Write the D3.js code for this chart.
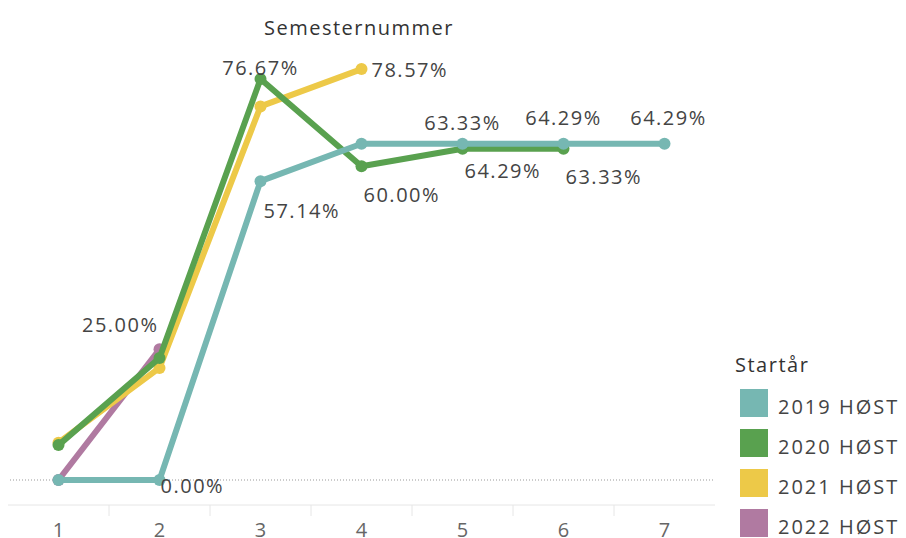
<!DOCTYPE html>
<html>
<head>
<meta charset="utf-8">
<script src="https://cdn.jsdelivr.net/npm/d3@7"></script>
<style>
  body { margin: 0; background: #fff; }
  text { font-family: "Open Sans", "Noto Sans", sans-serif; }
</style>
</head>
<body>
<div id="chart"></div>
<script>
// Data
const semesters = ["1", "2", "3", "4", "5", "6", "7"];
const seriesNames = ["2019 HØST", "2020 HØST", "2021 HØST", "2022 HØST"];
const colors = ["#76b7b2", "#59a14f", "#edc948", "#b07aa1"];
const v2019 = [0, 0, 57.14, 64.29, 64.29, 64.29, 64.29];
const v2020 = [6.67, 23.33, 76.67, 60.00, 63.33, 63.33];
const v2021 = [7.14, 21.43, 71.43, 78.57];
const v2022 = [0, 25.00];
const values = [v2019, v2020, v2021, v2022];

// which points carry a label: [series, index, dx, dy, anchor]
const labels = [
  [0, 1, 1, 13, "start"],
  [3, 1, -1, -17, "end"],
  [1, 2, 0, -4, "middle"],
  [2, 3, 10, 8, "start"],
  [0, 2, 3, 37, "start"],
  [1, 3, 2, 36, "start"],
  [1, 4, 0, -19, "middle"],
  [0, 4, 2, 34, "start"],
  [0, 5, 0, -19, "middle"],
  [1, 5, 2, 35, "start"],
  [0, 6, 4, -19, "middle"]
];

const width = 906, height = 538;
const fs = 20, ls = 1.5;

const svg = d3.select("#chart")
    .append("svg")
    .attr("width", width)
    .attr("height", height);

const x = d3.scaleBand().domain(semesters).range([8, 715]);
const y = d3.scaleLinear().domain([0, 100]).range([480, -43]);
const cx = i => x(semesters[i]) + x.bandwidth() / 2;

// Title
svg.append("text")
    .attr("x", 359)
    .attr("y", 35)
    .attr("text-anchor", "middle")
    .attr("font-size", fs)
    .attr("letter-spacing", 1.5)
    .attr("fill", "#333")
    .text("Semesternummer");

// zero line (dotted)
svg.append("line")
    .attr("x1", 10).attr("x2", 713)
    .attr("y1", y(0)).attr("y2", y(0))
    .attr("stroke", "#999")
    .attr("stroke-width", 1)
    .attr("stroke-dasharray", "1,2");

// x axis
const axisY = 505;
svg.append("line")
    .attr("x1", 8).attr("x2", 715)
    .attr("y1", axisY).attr("y2", axisY)
    .attr("stroke", "#e6e6e6");

svg.selectAll(".sep")
    .data(semesters.slice(1))
    .enter().append("line")
    .attr("class", "sep")
    .attr("x1", d => x(d)).attr("x2", d => x(d))
    .attr("y1", axisY).attr("y2", axisY + 11)
    .attr("stroke", "#e6e6e6");

svg.selectAll(".tick-label")
    .data(semesters)
    .enter().append("text")
    .attr("class", "tick-label")
    .attr("x", d => x(d) + x.bandwidth() / 2)
    .attr("y", 537)
    .attr("text-anchor", "middle")
    .attr("font-size", fs)
    .attr("fill", "#666")
    .text(d => d);

// lines, bottom to top
const line = d3.line()
    .x((d, i) => cx(i))
    .y(d => y(d));

const order = [3, 2, 1, 0];
order.forEach(s => {
    const g = svg.append("g");
    g.append("path")
        .datum(values[s])
        .attr("d", line)
        .attr("fill", "none")
        .attr("stroke", colors[s])
        .attr("stroke-width", 6)
        .attr("stroke-linejoin", "round")
        .attr("stroke-linecap", "round");
    g.selectAll("circle")
        .data(values[s])
        .enter().append("circle")
        .attr("cx", (d, i) => cx(i))
        .attr("cy", d => y(d))
        .attr("r", 6)
        .attr("fill", colors[s]);
});

// data labels
svg.selectAll(".val")
    .data(labels)
    .enter().append("text")
    .attr("class", "val")
    .attr("x", d => cx(d[1]) + d[2])
    .attr("y", d => y(values[d[0]][d[1]]) + d[3])
    .attr("text-anchor", d => d[4])
    .attr("font-size", fs)
    .attr("letter-spacing", ls)
    .attr("fill", "#444")
    .text(d => values[d[0]][d[1]].toFixed(2) + "%");

// legend
svg.append("text")
    .attr("x", 735)
    .attr("y", 372)
    .attr("font-size", fs)
    .attr("letter-spacing", 1.5)
    .attr("fill", "#333")
    .text("Startår");

const legend = svg.selectAll(".legend")
    .data(seriesNames)
    .enter().append("g")
    .attr("class", "legend")
    .attr("transform", (d, i) => "translate(740," + (389 + i * 40) + ")");

legend.append("rect")
    .attr("width", 28)
    .attr("height", 28)
    .attr("fill", (d, i) => colors[i]);

legend.append("text")
    .attr("x", 38)
    .attr("y", 25)
    .attr("font-size", fs)
    .attr("letter-spacing", 2)
    .attr("fill", "#444")
    .text(d => d);
</script>
</body>
</html>
